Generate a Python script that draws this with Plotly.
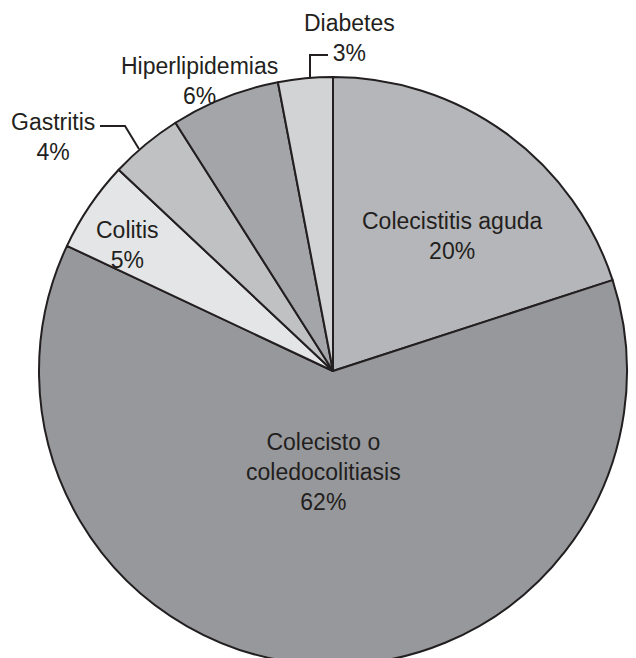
import plotly.graph_objects as go

labels = ["Colecistitis aguda", "Colecisto o coledocolitiasis", "Colitis",
          "Gastritis", "Hiperlipidemias", "Diabetes"]
display_labels = ["Colecistitis aguda", "Colecisto o<br>coledocolitiasis", "Colitis",
                  "Gastritis", "Hiperlipidemias", "Diabetes"]
values = [20, 62, 5, 4, 6, 3]
colors = ["#b5b6b9", "#97989b", "#e4e5e7", "#c0c1c3", "#a4a5a8", "#d2d3d5"]

W, H = 636, 668
TXT = "#231f20"
FONT = "Liberation Sans, Arial, Helvetica, sans-serif"

def px(x):
    return x / W

def py(y):
    return 1 - y / H

# pie circle: center (333, 371), radius 294
cx, cy, r = 333, 371, 294
fig = go.Figure(go.Pie(
    labels=labels,
    values=values,
    sort=False,
    direction="clockwise",
    rotation=0,
    marker=dict(colors=colors, line=dict(color=TXT, width=2)),
    textinfo="none",
    hoverinfo="label+percent",
    showlegend=False,
    domain=dict(x=[px(cx - r), px(cx + r)], y=[py(cy + r), py(cy - r)]),
))

total = sum(values)
label_pos = [(452, 236), (323, 472), (127, 245), (53, 137), (199, 81), (349, 38)]
for lab, v, (x, y) in zip(display_labels, values, label_pos):
    fig.add_annotation(
        x=px(x), y=py(y), xref="paper", yref="paper",
        text=f"{lab}<br>{round(100 * v / total)}%",
        showarrow=False, xanchor="center", yanchor="middle", align="center",
        font=dict(family=FONT, size=23, color=TXT),
    )

leaders = [
    [(100, 126), (125, 126), (139, 149)],   # Gastritis
    [(310, 78), (310, 55), (328, 55)],      # Diabetes
]
for pts in leaders:
    path = "M " + " L ".join(f"{px(x)},{py(y)}" for x, y in pts)
    fig.add_shape(type="path", path=path, xref="paper", yref="paper",
                  line=dict(color=TXT, width=2))

fig.update_layout(
    width=W, height=H,
    margin=dict(l=0, r=0, t=0, b=0),
    paper_bgcolor="white",
    plot_bgcolor="white",
)

fig.write_html(
    "out.html",
    config={"displayModeBar": False},
    post_script=("document.body.style.margin='0px';"
                 "document.body.style.overflow='hidden';"
                 "document.documentElement.style.overflow='hidden';"),
)
